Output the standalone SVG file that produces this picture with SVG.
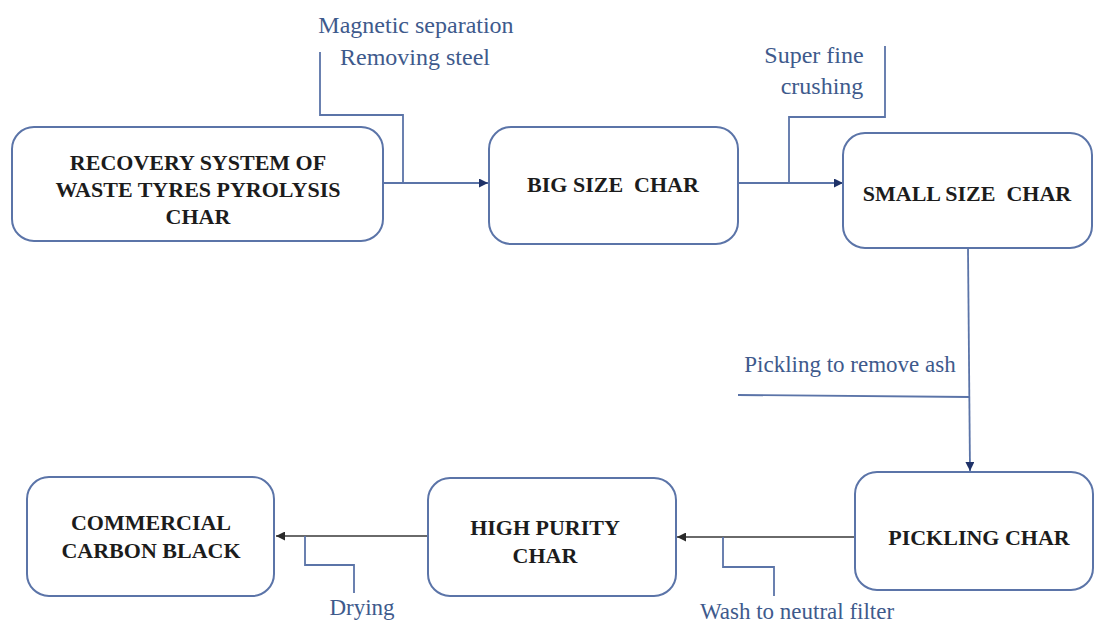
<svg xmlns="http://www.w3.org/2000/svg" width="1096" height="624" viewBox="0 0 1096 624">
<style>
.box{fill:#ffffff;stroke:#5b74a8;stroke-width:2}
.nt{font-family:"Liberation Serif","Times New Roman",serif;font-weight:bold;font-size:22px;fill:#1c1c1c;text-anchor:middle;white-space:pre}
.lb{font-family:"Liberation Serif","Times New Roman",serif;font-size:23px;fill:#3e5a8c;text-anchor:middle}
.lbt{font-size:24px}
.ln{fill:none;stroke:#5b74a8;stroke-width:1.8}
.lg{fill:none;stroke:#6a6a6a;stroke-width:1.8}
</style>
<defs>
<marker id="ah" viewBox="0 0 10 10" refX="10" refY="5" markerWidth="5" markerHeight="5" orient="auto" markerUnits="strokeWidth">
<path d="M0,0 L10,5 L0,10 z" fill="#1f3268"/>
</marker>
<marker id="ahg" viewBox="0 0 10 10" refX="10" refY="5" markerWidth="5" markerHeight="5" orient="auto" markerUnits="strokeWidth">
<path d="M0,0 L10,5 L0,10 z" fill="#2a2a2a"/>
</marker>
</defs>
<rect width="1096" height="624" fill="#ffffff"/>
<g id="connectors">
<line class="ln" x1="383" y1="183" x2="488" y2="183" marker-end="url(#ah)"/>
<polyline class="ln" points="403,183 403,115 320,115 320,52"/>
<line class="ln" x1="738" y1="183" x2="843" y2="183" marker-end="url(#ah)"/>
<polyline class="ln" points="789,183 789,117 885,117 885,46"/>
<line class="ln" x1="968" y1="249" x2="970" y2="471" marker-end="url(#ah)"/>
<line class="ln" x1="738" y1="395" x2="969" y2="397"/>
<line class="lg" x1="855" y1="537" x2="677" y2="537" marker-end="url(#ahg)"/>
<polyline class="ln" points="723,537 723,567 774,567 774,596"/>
<line class="lg" x1="428" y1="536" x2="276" y2="536" marker-end="url(#ahg)"/>
<polyline class="ln" points="305,536 305,565 354,565 354,593"/>
</g>
<g id="labels">
<text class="lb lbt" x="416" y="33">Magnetic separation</text>
<text class="lb lbt" x="415" y="65">Removing steel</text>
<text class="lb lbt" x="814" y="63">Super fine</text>
<text class="lb lbt" x="822" y="94">crushing</text>
<text class="lb" x="850" y="372">Pickling to remove ash</text>
<text class="lb" x="797" y="619">Wash to neutral filter</text>
<text class="lb" x="362" y="615">Drying</text>
</g>
<g id="node-recovery">
<rect class="box" x="12" y="127" width="371" height="114" rx="22"/>
<text class="nt" x="198" y="170">RECOVERY SYSTEM OF</text>
<text class="nt" x="198" y="197">WASTE TYRES PYROLYSIS</text>
<text class="nt" x="198" y="224">CHAR</text>
</g>
<g id="node-big">
<rect class="box" x="489" y="127" width="249" height="117" rx="22"/>
<text class="nt" x="613" y="192">BIG SIZE  CHAR</text>
</g>
<g id="node-small">
<rect class="box" x="843" y="133" width="249" height="115" rx="22"/>
<text class="nt" x="967" y="201">SMALL SIZE  CHAR</text>
</g>
<g id="node-pickling">
<rect class="box" x="855" y="472" width="238" height="118" rx="22"/>
<text class="nt" x="979" y="545">PICKLING CHAR</text>
</g>
<g id="node-highpurity">
<rect class="box" x="428" y="478" width="248" height="118" rx="22"/>
<text class="nt" x="545" y="535">HIGH PURITY</text>
<text class="nt" x="545" y="563">CHAR</text>
</g>
<g id="node-commercial">
<rect class="box" x="27" y="477" width="247" height="119" rx="22"/>
<text class="nt" x="151" y="530">COMMERCIAL</text>
<text class="nt" x="151" y="558">CARBON BLACK</text>
</g>
</svg>
